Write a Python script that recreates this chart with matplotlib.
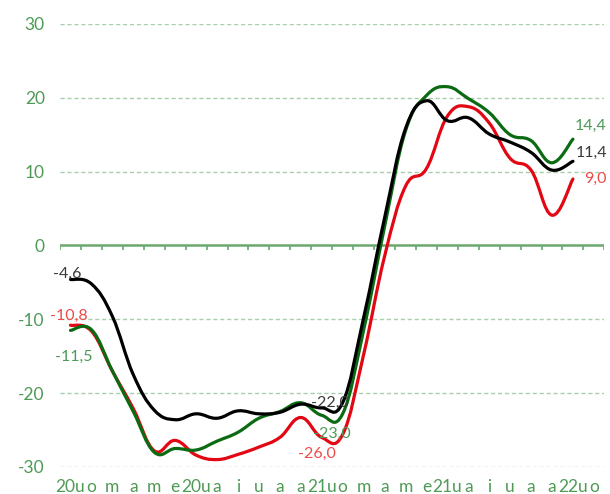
import numpy as np
import matplotlib
matplotlib.use("Agg")
import matplotlib.pyplot as plt
from matplotlib.path import Path
from matplotlib.patches import PathPatch

# ── Data ────────────────────────────────────────────────
CATEGORIES = ["20u", "o", "m", "a", "m", "e", "20u", "a", "i", "u", "a", "a",
              "21u", "o", "m", "a", "m", "e", "21u", "a", "i", "u", "a", "a",
              "22u", "o"]

BLACK = [-4.6, -5.2, -9.6, -17.5, -22.3, -23.6, -22.8, -23.4, -22.4, -22.8,
         -22.6, -21.5, -22.0, -21.3, -9.8, 3.7, 15.8, 19.6, 16.9, 17.3,
         15.1, 14.0, 12.6, 10.2, 11.4]
GREEN = [-11.5, -11.4, -17.0, -22.5, -28.0, -27.5, -27.7, -26.5, -25.3, -23.4,
         -22.5, -21.3, -23.0, -22.8, -11.5, 2.5, 15.5, 20.3, 21.5, 19.9,
         18.0, 15.0, 14.2, 11.2, 14.4]
RED = [-10.8, -11.6, -17.0, -22.1, -27.8, -26.4, -28.4, -29.0, -28.3, -27.3,
       -26.0, -23.3, -26.0, -25.6, -14.8, -1.5, 8.0, 10.4, 17.5, 18.8,
       16.6, 11.8, 10.2, 4.1, 9.0]

LABEL_IDX = [0, 12, 24]
Y_TICKS = [-30, -20, -10, 0, 10, 20, 30]

# ── Style ───────────────────────────────────────────────
AXIS_GREEN = "#4e9a56"
GRID_GREEN = "#a9cfa9"
ZERO_GREEN = "#6aa86e"
LINE_COLORS = {"black": "#000000", "green": "#0b6b12", "red": "#e30613"}
TEXT_COLORS = {"black": "#3a3a3a", "green": "#4f9a58", "red": "#ee4a4a"}

plt.rcParams.update({
    "font.family": ["Lato", "DejaVu Sans"],
    "axes.unicode_minus": False,
})


def smooth_path(xs, ys, s=0.2):
    """Bezier curve through the points (smooth line like the original)."""
    n = len(xs)
    verts = [(xs[0], ys[0])]
    codes = [Path.MOVETO]
    for i in range(n - 1):
        a = max(i - 1, 0)
        b = min(i + 2, n - 1)
        c1 = (xs[i] + (xs[i + 1] - xs[a]) * s, ys[i] + (ys[i + 1] - ys[a]) * s)
        c2 = (xs[i + 1] - (xs[b] - xs[i]) * s, ys[i + 1] - (ys[b] - ys[i]) * s)
        verts += [c1, c2, (xs[i + 1], ys[i + 1])]
        codes += [Path.CURVE4] * 3
    return Path(verts, codes)


def fmt(v):
    return f"{v:.1f}".replace(".", ",")


fig = plt.figure(figsize=(6.1, 4.94), dpi=100)
ax = fig.add_axes([0.0984, 0.0547, 0.8923, 0.8968])

n_cat = len(CATEGORIES)
ax.set_xlim(-0.5, n_cat - 0.5)
ax.set_ylim(-30, 30)

# grid
for y in Y_TICKS:
    if y == 0:
        continue
    ax.axhline(y, color=GRID_GREEN, linewidth=1, linestyle=(0, (3, 2)), zorder=1)
ax.axhline(0, color=ZERO_GREEN, linewidth=1.8, zorder=1)
bounds = np.arange(n_cat + 1) - 0.5
ax.vlines(bounds, -0.6, 0, color=ZERO_GREEN, linewidth=1.2, zorder=1)

# series
series = [("red", RED, 2), ("green", GREEN, 3), ("black", BLACK, 4)]
for name, vals, z in series:
    xs = np.arange(len(vals))
    patch = PathPatch(smooth_path(xs, vals), facecolor="none",
                      edgecolor=LINE_COLORS[name], linewidth=2.3,
                      capstyle="round", joinstyle="round", zorder=z)
    ax.add_patch(patch)

# data labels (offsets in pixels)
offsets = {
    ("black", 0): (-3, 6, "center"), ("red", 0): (-2, 9, "center"), ("green", 0): (3, -27, "center"),
    ("black", 12): (8, 5, "center"), ("green", 12): (10, -19, "center"), ("red", 12): (-5, -16, "center"),
    ("black", 24): (34, 8, "right"), ("green", 24): (34, 13, "right"), ("red", 24): (34, 0, "right"),
}
for name, vals, z in series:
    for i in LABEL_IDX:
        dx, dy, ha = offsets[(name, i)]
        ax.annotate(fmt(vals[i]), (i, vals[i]), xytext=(dx, dy),
                    textcoords="offset pixels", ha=ha, va="center",
                    fontsize=11.5, color=TEXT_COLORS[name], zorder=6)

# axes
ax.set_yticks(Y_TICKS)
ax.set_yticklabels([str(v) for v in Y_TICKS])
ax.set_xticks(np.arange(n_cat))
ax.set_xticklabels(CATEGORIES)
ax.tick_params(axis="y", length=0, pad=11, labelsize=12.5, labelcolor=AXIS_GREEN)
ax.tick_params(axis="x", length=0, pad=9, labelsize=12.5, labelcolor=AXIS_GREEN)
for sp in ax.spines.values():
    sp.set_visible(False)

fig.savefig("out.png", dpi=100)
